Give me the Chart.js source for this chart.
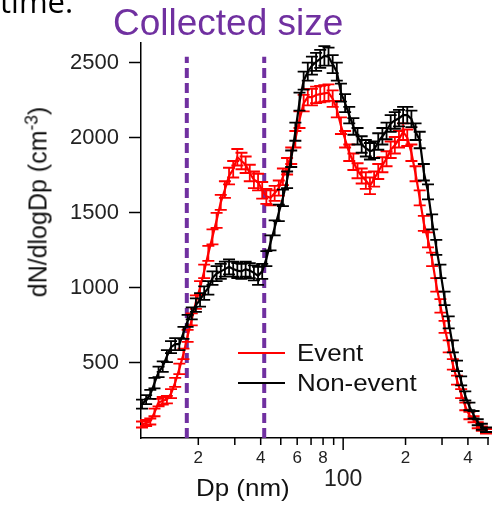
<!DOCTYPE html>
<html><head><meta charset="utf-8">
<script src="https://cdn.jsdelivr.net/npm/chart.js@4.4.1/dist/chart.umd.min.js"></script>
<style>
html,body{margin:0;padding:0;background:#fff;overflow:hidden;}
#wrap{position:relative;width:496px;height:506px;overflow:hidden;}
#c{position:absolute;left:0;top:0;}
.t{position:absolute;white-space:nowrap;line-height:1;font-family:"Liberation Sans",Arial,sans-serif;color:#111;}
.ln{position:absolute;height:2px;}
sup{font-size:0.7em;vertical-align:baseline;position:relative;top:-0.5em;}
</style></head><body>
<div id="wrap">
<canvas id="c" width="496" height="506"></canvas>
<div class="t" style="left:0px;top:-14px;font-family:'Open Sans',sans-serif;font-size:31px;color:#000;">time.</div>
<div class="t" style="left:113px;top:4.4px;font-size:37px;color:#7030a0;">Collected size</div>
<div class="t" style="left:37.5px;top:201.5px;font-size:25px;transform:translate(-50%,-50%) rotate(-90deg);">dN/dlogDp (cm<sup>-3</sup>)</div>
<div class="t" style="left:196px;top:476px;font-size:24px;transform:scaleX(1.08);transform-origin:0 0;">Dp (nm)</div>
<div class="ln" style="left:238px;top:352px;width:47px;background:#ff0000;"></div>
<div class="ln" style="left:238px;top:382px;width:47px;background:#000;"></div>
<div class="t" style="left:297px;top:341.4px;font-size:24px;transform:scaleX(1.08);transform-origin:0 0;">Event</div>
<div class="t" style="left:297px;top:371.4px;font-size:24px;transform:scaleX(1.08);transform-origin:0 0;">Non-event</div>
</div>
<script>
// ---- data ----
const diameters = [10.70,11.20,11.73,12.29,12.86,13.47,14.11,14.77,15.47,16.20,16.96,17.76,18.59,19.47,20.39,21.35,22.36,23.41,24.51,25.67,26.88,28.14,29.47,30.86,32.31,33.84,35.43,37.10,38.85,40.68,42.60,44.61,46.71,48.91,51.21,53.63,56.15,58.80,61.57,64.47,67.51,70.69,74.03,77.51,81.17,84.99,89.00,93.19,97.59,102.18,107.00,112.04,117.33,122.86,128.65,134.70,141.06,147.70,154.66,161.96,169.58,177.58,185.94,194.71,203.89,213.50,223.56,234.09,245.13,256.67,268.77,281.44,294.70,308.59,323.14,338.36,354.31,371.01,388.50,406.80,425.98,446.05,467.08,489.09];

const eventValues = [90,100,110,170,236,248,256,295,370,460,560,680,790,905,1000,1110,1230,1340,1450,1570,1655,1745,1790,1870,1845,1820,1765,1720,1705,1650,1610,1600,1630,1665,1740,1810,1880,1990,2120,2230,2270,2270,2285,2290,2295,2300,2260,2190,2080,1990,1900,1840,1780,1745,1715,1680,1725,1775,1820,1860,1920,1950,1990,2040,2000,1900,1760,1600,1430,1320,1190,1020,880,740,610,490,385,295,210,150,125,85,62,45];
const eventErrors = [20,20,20,25,25,25,25,30,30,35,35,40,40,45,45,45,50,50,50,50,55,55,55,55,55,55,55,55,55,55,50,50,50,50,55,55,55,55,55,55,55,55,55,55,55,55,55,55,55,55,55,55,50,50,55,55,50,50,50,50,55,55,55,55,55,55,50,50,50,50,45,45,45,40,40,35,30,30,25,25,20,20,15,15];

const nonEventValues = [225,255,290,365,440,475,545,605,625,625,700,780,830,885,920,965,1000,1065,1095,1110,1125,1140,1125,1115,1110,1125,1115,1100,1080,1110,1195,1300,1400,1500,1600,1720,1860,2040,2240,2380,2440,2480,2505,2525,2545,2540,2490,2440,2300,2230,2150,2075,2010,1955,1930,1910,1920,1975,2010,2045,2095,2115,2130,2150,2150,2125,2040,1985,1770,1640,1440,1270,1110,930,770,610,480,380,280,210,155,105,75,55];
const nonEventErrors = [30,30,30,35,35,35,40,40,40,40,40,40,40,45,45,45,45,45,50,50,50,50,50,50,50,50,50,50,60,50,50,50,50,55,55,55,55,60,60,60,60,60,60,60,65,60,60,60,60,60,55,55,55,55,55,55,55,55,55,55,55,55,55,55,55,55,55,55,55,50,50,50,45,45,40,40,35,30,30,25,25,20,20,15];

const collectedSizeBounds = [17.6, 41.6];
const collectedLineTop = 2540;
const xTickValues = [20,30,40,50,60,70,80,90,100,200,300,400,500];
const xTickLabels = {20:'2',40:'4',60:'6',80:'8',100:'100',200:'2',400:'4'};
const yTickValues = [500,1000,1500,2000,2500];
const xRange = [10.58, 500];
const yRange = [0, 2631];

// ---- drawing ----
const FONT = '"Liberation Sans", Arial, sans-serif';

const errorBars = {
  id: 'errorBars',
  afterDatasetDraw(chart, args) {
    const ds = chart.data.datasets[args.index];
    if (!ds.errors) return;
    const ctx = chart.ctx, x = chart.scales.x, y = chart.scales.y;
    ctx.save();
    ctx.strokeStyle = ds.borderColor;
    ctx.lineWidth = 1.8;
    ctx.beginPath();
    ds.data.forEach((p, i) => {
      const e = ds.errors[i];
      const px = x.getPixelForValue(p.x);
      const y1 = y.getPixelForValue(p.y - e), y2 = y.getPixelForValue(p.y + e);
      ctx.moveTo(px, y1); ctx.lineTo(px, y2);
      ctx.moveTo(px - 6, y1); ctx.lineTo(px + 6, y1);
      ctx.moveTo(px - 6, y2); ctx.lineTo(px + 6, y2);
    });
    ctx.stroke();
    ctx.restore();
  }
};

const xTickMarks = {
  id: 'xTickMarks',
  afterDraw(chart) {
    const ctx = chart.ctx, x = chart.scales.x, b = chart.chartArea.bottom;
    ctx.save();
    ctx.strokeStyle = '#000';
    ctx.lineWidth = 1.5;
    ctx.beginPath();
    x.ticks.forEach(t => {
      const px = x.getPixelForValue(t.value);
      const len = t.value === 100 ? 12 : 7;
      ctx.moveTo(px, b); ctx.lineTo(px, b + len);
    });
    ctx.stroke();
    ctx.restore();
  }
};

function series(vals) { return diameters.map((d, i) => ({x: d, y: vals[i]})); }
function vline(v) { return [{x: v, y: yRange[0]}, {x: v, y: collectedLineTop}]; }

new Chart(document.getElementById('c'), {
  type: 'scatter',
  data: {
    datasets: [
      {label: 'Non-event', data: series(nonEventValues), errors: nonEventErrors,
       borderColor: '#000000', backgroundColor: '#000000', showLine: true, borderWidth: 2.2, pointRadius: 0, order: 1},
      {label: 'Event', data: series(eventValues), errors: eventErrors,
       borderColor: '#ff0000', backgroundColor: '#ff0000', showLine: true, borderWidth: 2.2, pointRadius: 0, order: 2},
      {label: 'lower', data: vline(collectedSizeBounds[0]), borderColor: '#7030a0', borderWidth: 4,
       borderDash: [10, 5], showLine: true, pointRadius: 0, order: 3},
      {label: 'upper', data: vline(collectedSizeBounds[1]), borderColor: '#7030a0', borderWidth: 4,
       borderDash: [10, 5], showLine: true, pointRadius: 0, order: 3}
    ]
  },
  options: {
    responsive: false, animation: false, devicePixelRatio: 1,
    layout: {padding: {top: 43, right: 8, left: 0, bottom: 0}},
    plugins: {legend: {display: false}, tooltip: {enabled: false}, title: {display: false}},
    scales: {
      x: {
        type: 'logarithmic', min: xRange[0], max: xRange[1], bounds: 'data',
        afterBuildTicks: s => { s.ticks = xTickValues.map(v => ({value: v})); },
        afterFit: s => { s.height = 68; },
        grid: {drawOnChartArea: false, drawTicks: true, tickLength: 7, tickColor: 'rgba(0,0,0,0)'},
        border: {display: true, color: '#000', width: 1.5},
        ticks: {
          autoSkip: false, maxRotation: 0, minRotation: 0, padding: 3.4, color: '#222',
          callback: v => v === 100 ? ['', '100'] : (xTickLabels[v] || ''),
          font: c => (c.tick && c.tick.value === 100)
            ? {family: FONT, size: 23, lineHeight: '21px'}
            : {family: FONT, size: 17, lineHeight: 1.15}
        }
      },
      y: {
        type: 'linear', min: yRange[0], max: yRange[1], bounds: 'data',
        afterBuildTicks: s => { s.ticks = yTickValues.map(v => ({value: v})); },
        afterFit: s => { s.width = 141; },
        grid: {drawOnChartArea: false, drawTicks: true, tickLength: 12, tickColor: '#000', tickWidth: 1.5},
        border: {display: true, color: '#000', width: 1.5},
        ticks: {padding: 10, color: '#222', font: {family: FONT, size: 22}, callback: v => String(v)}
      }
    }
  },
  plugins: [errorBars, xTickMarks]
});
</script>
</body></html>
